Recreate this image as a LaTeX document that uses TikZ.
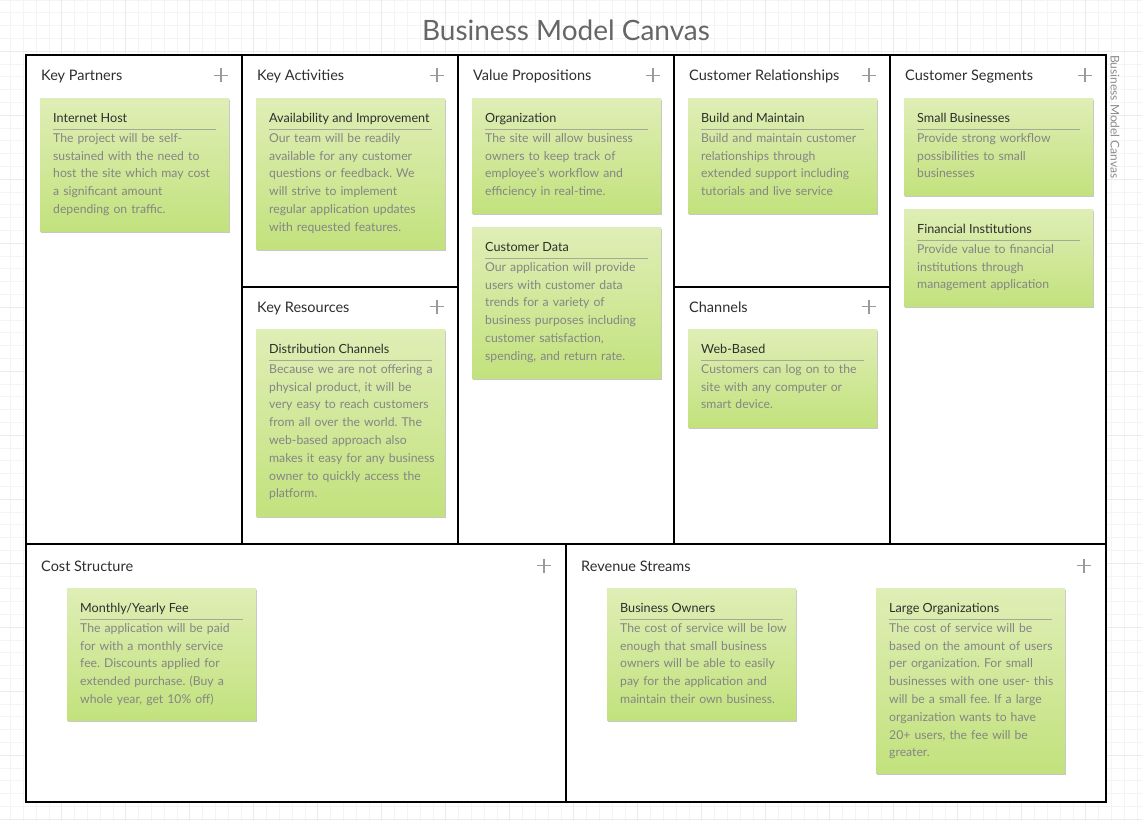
\documentclass[tikz,border=0pt]{standalone}
\usepackage{fontspec}
\setmainfont{Lato}
\usetikzlibrary{shadows}
\frenchspacing
\definecolor{gridminor}{HTML}{F4F4F4}
\definecolor{gridmajor}{HTML}{EBEBEB}
\definecolor{cardtop}{HTML}{DFEEB6}
\definecolor{cardbot}{HTML}{C2E27D}
\definecolor{headtxt}{HTML}{2E2E2E}
\definecolor{bodytxt}{HTML}{858585}
\definecolor{plusc}{HTML}{9A9A9A}
\definecolor{sepc}{HTML}{A3AB95}
\definecolor{titletxt}{HTML}{666666}
\definecolor{sidetxt}{HTML}{8C8C8C}

\newcommand\card[6]{%
  \node[cardbox, minimum height=#4pt, anchor=north west] (#1) at (#2,#3) {};
  \node[cardtitle, anchor=base west] (#1-t) at ({#2+13},{#3+24.3}) {#5};
  \draw[sepline] ({#2+13},{#3+31}) -- ({#2+176},{#3+31});
  \node[cardbody, anchor=base west] (#1-b) at ({#2+13},{#3+44.3}) {#6};
}
\newcommand\sechead[5]{%
  \node[header, anchor=base west] (#1) at (#2,#3) {#4};
  \draw[plussign] ({#5-7},{#3-5.5}) -- ({#5+7},{#3-5.5}) ({#5},{#3-12.5}) -- ({#5},{#3+1.5});
}

\begin{document}
\begin{tikzpicture}[x=1pt, y=-1pt,
  frame/.style={line width=1.3pt, draw=black},
  cardbox/.style={minimum width=189pt, inner sep=0pt, top color=cardtop, bottom color=cardbot,
     draw=none, drop shadow={shadow xshift=0.6pt, shadow yshift=-2.2pt, opacity=0.4, fill=black!55}},
  cardtitle/.style={font=\fontsize{12.6}{15}\selectfont, text=headtxt, inner sep=0pt},
  cardbody/.style={font=\fontsize{12.2}{17.8}\selectfont, text=bodytxt, text width=178pt, align=left, inner sep=0pt},
  sepline/.style={draw=sepc, line width=0.8pt},
  header/.style={font=\fontsize{14.5}{17}\selectfont, text=headtxt, inner sep=0pt},
  plussign/.style={draw=plusc, line width=1.3pt},
]
\useasboundingbox (0,0) rectangle (1142,821);
\fill[white] (0,0) rectangle (1142,821);
% background grid
\foreach \i in {0,...,90} {
  \draw[gridminor, line width=0.8pt] ({-2.3+\i*12.8},0) -- ({-2.3+\i*12.8},821);
}
\foreach \i in {0,...,65} {
  \draw[gridminor, line width=0.8pt] (0,{\i*12.8}) -- (1142,{\i*12.8});
}
\foreach \i in {0,...,18} {
  \draw[gridmajor, line width=0.8pt] ({-2.3+\i*64},0) -- ({-2.3+\i*64},821);
}
\foreach \i in {0,...,13} {
  \draw[gridmajor, line width=0.8pt] (0,{51.2+\i*64}) -- (1142,{51.2+\i*64});
}

% title
\node[font=\fontsize{28}{32}\selectfont, text=titletxt, inner sep=0pt] (title) at (566,30) {Business Model Canvas};
\node[font=\fontsize{12}{14}\selectfont, text=sidetxt, inner sep=0pt, rotate=-90, anchor=west] (side) at (1115,55) {Business Model Canvas};

% canvas frame
\fill[white] (26,55) rectangle (1106,802);
\draw[frame] (26,55) rectangle (1106,802);
\draw[frame] (26,544) -- (1106,544);
\draw[frame] (242,55) -- (242,544);
\draw[frame] (458,55) -- (458,544);
\draw[frame] (674,55) -- (674,544);
\draw[frame] (890,55) -- (890,544);
\draw[frame] (242,287) -- (458,287);
\draw[frame] (674,287) -- (890,287);
\draw[frame] (566,544) -- (566,802);

% section headers
\sechead{hkp}{41}{81}{Key Partners}{221}
\sechead{hka}{257}{81}{Key Activities}{437}
\sechead{hvp}{473}{81}{Value Propositions}{653}
\sechead{hcr}{689}{81}{Customer Relationships}{869}
\sechead{hcs}{905}{81}{Customer Segments}{1085}
\sechead{hkr}{257}{312}{Key Resources}{437}
\sechead{hch}{689}{312}{Channels}{869}
\sechead{hcost}{41}{571}{Cost Structure}{544}
\sechead{hrev}{581}{571}{Revenue Streams}{1084}

% cards
\card{c1}{40}{98}{133}{Internet Host}{The project will be self-\\sustained with the need to\\host the site which may cost\\a significant amount\\depending on traffic.}
\card{c2}{256}{98}{151}{Availability and Improvement}{Our team will be readily\\available for any customer\\questions or feedback. We\\will strive to implement\\regular application updates\\with requested features.}
\card{c3}{472}{98}{115}{Organization}{The site will allow business\\owners to keep track of\\employee's workflow and\\efficiency in real-time.}
\card{c4}{472}{227}{151}{Customer Data}{Our application will provide\\users with customer data\\trends for a variety of\\business purposes including\\customer satisfaction,\\spending, and return rate.}
\card{c5}{688}{98}{115}{Build and Maintain}{Build and maintain customer\\relationships through\\extended support including\\tutorials and live service}
\card{c6}{904}{98}{97}{Small Businesses}{Provide strong workflow\\possibilities to small\\businesses}
\card{c7}{904}{209}{97}{Financial Institutions}{Provide value to financial\\institutions through\\management application}
\card{c8}{256}{329}{187}{Distribution Channels}{Because we are not offering a\\physical product, it will be\\very easy to reach customers\\from all over the world. The\\web-based approach also\\makes it easy for any business\\owner to quickly access the\\platform.}
\card{c9}{688}{329}{98}{Web-Based}{Customers can log on to the\\site with any computer or\\smart device.}
\card{c10}{67}{588}{132}{Monthly/Yearly Fee}{The application will be paid\\for with a monthly service\\fee. Discounts applied for\\extended purchase. (Buy a\\whole year, get 10\% off)}
\card{c11}{607}{588}{132}{Business Owners}{The cost of service will be low\\enough that small business\\owners will be able to easily\\pay for the application and\\maintain their own business.}
\card{c12}{876}{588}{185}{Large Organizations}{The cost of service will be\\based on the amount of users\\per organization. For small\\businesses with one user- this\\will be a small fee. If a large\\organization wants to have\\20+ users, the fee will be\\greater.}
\end{tikzpicture}
\end{document}
